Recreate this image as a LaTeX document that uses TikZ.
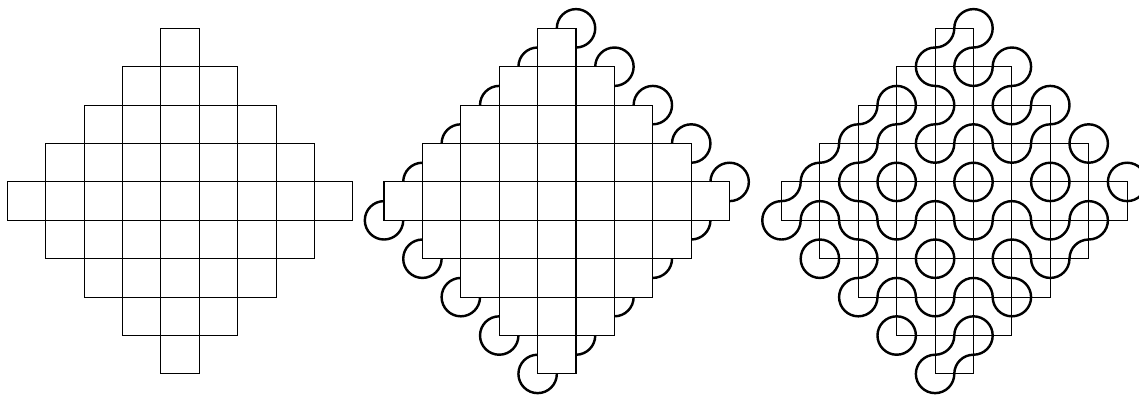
\documentclass[tikz,border=0pt]{standalone}
\usepackage{tikz}

\newcommand\aztecgrid{%
  \foreach \r in {0,...,8}{%
    \pgfmathtruncatemacro\lo{abs(\r-4)}%
    \pgfmathtruncatemacro\hi{8-abs(\r-4)}%
    \foreach \c in {\lo,...,\hi}
      \draw[gridline] (\c,-\r) rectangle ++(1,-1);
  }}
\newcommand\aztecrim{%
  \foreach \i/\j in {5/0,6/1,7/2,8/3,9/4}
    \draw[truchet] (\i,-\j) ++(-90:2.5mm) arc[start angle=-90,end angle=180,radius=2.5mm];
  \foreach \i/\j in {0/5,1/6,2/7,3/8,4/9}
    \draw[truchet] (\i,-\j) ++(90:2.5mm) arc[start angle=90,end angle=360,radius=2.5mm];
  \foreach \i/\j in {4/1,3/2,2/3,1/4}
    \draw[truchet] (\i,-\j) ++(90:2.5mm) arc[start angle=90,end angle=180,radius=2.5mm];
  \foreach \i/\j in {8/5,7/6,6/7,5/8}
    \draw[truchet] (\i,-\j) ++(270:2.5mm) arc[start angle=270,end angle=360,radius=2.5mm];
}

\begin{document}
\begin{tikzpicture}[x=5mm,y=5mm,
    gridline/.style={line width=0.4pt},
    truchet/.style={line width=0.9pt}]
  \useasboundingbox (0,0) rectangle (29.66,-10.26);

  \begin{scope}[shift={(0.19,-0.737)}]
    \aztecgrid
  \end{scope}

  \begin{scope}[shift={(10.0,-0.737)}]
    \aztecgrid
    \aztecrim
  \end{scope}

  \begin{scope}[shift={(20.35,-0.737)}]
    \aztecgrid
    \aztecrim
    % tiles with arcs at the NW and SE corners
    \foreach \r/\c in {0/4,1/5,2/2,2/3,2/4,2/6,3/1,3/2,3/4,3/6,4/0,4/3,4/5,4/7,
                       5/3,5/5,5/7,6/2,6/4,7/4,8/4}{
      \draw[truchet] (\c,-\r) ++(0:2.5mm) arc[start angle=0,end angle=-90,radius=2.5mm];
      \draw[truchet] (\c+1,-\r-1) ++(90:2.5mm) arc[start angle=90,end angle=180,radius=2.5mm];
    }
    % tiles with arcs at the NE and SW corners
    \foreach \r/\c in {1/3,1/4,2/5,3/3,3/5,3/7,4/1,4/2,4/4,4/6,4/8,
                       5/1,5/2,5/4,5/6,6/3,6/5,6/6,7/3,7/5}{
      \draw[truchet] (\c+1,-\r) ++(180:2.5mm) arc[start angle=180,end angle=270,radius=2.5mm];
      \draw[truchet] (\c,-\r-1) ++(0:2.5mm) arc[start angle=0,end angle=90,radius=2.5mm];
    }
  \end{scope}
\end{tikzpicture}
\end{document}
